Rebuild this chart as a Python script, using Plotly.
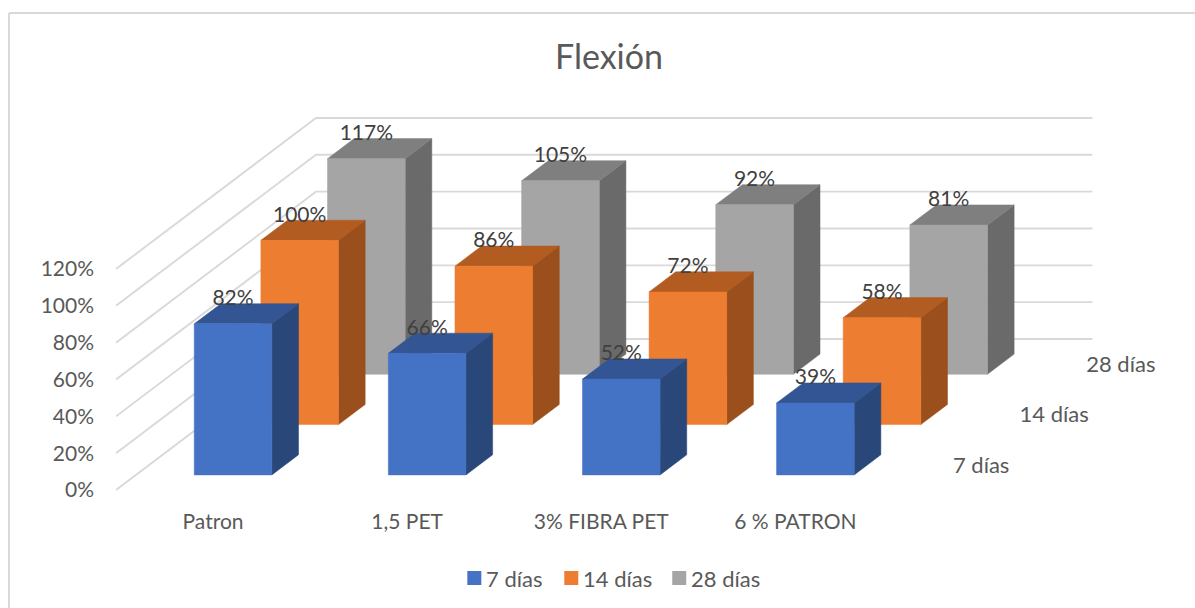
import plotly.graph_objects as go

# Chart data
categories = ["Patron", "1,5 PET", "3% FIBRA PET", "6 % PATRON"]
series_names = ["7 días", "14 días", "28 días"]
values_7 = [82, 66, 52, 39]
values_14 = [100, 86, 72, 58]
values_28 = [117, 105, 92, 81]
tick_values = [0, 20, 40, 60, 80, 100, 120]
tick_labels = ["0%", "20%", "40%", "60%", "80%", "100%", "120%"]

# Face colours per series: front, side, top
front_colors = ["#4472C4", "#ED7D31", "#A5A5A5"]
side_colors = ["#2A4779", "#9A4F1C", "#6A6A6A"]
top_colors = ["#335593", "#B25C22", "#7F7F7F"]

WIDTH, HEIGHT = 1195, 608
LEFT = 115.5          # pixel column of the value axis
FLOOR = 490.0         # pixel row of 0 % on the front edge
PX_PER_CAT = 194.2
PX_PER_PCT = 1.842
DEPTH_DX = 66.67 / PX_PER_CAT   # category units per depth slot
DEPTH_DY = 50.33 / PX_PER_PCT   # percent units per depth slot
BAR_INSET = 0.3
FONT = "Lato"


def project(cat, depth, value):
    """Oblique projection of (category, depth slot, value) onto the 2D axes."""
    return cat + depth * DEPTH_DX, value + depth * DEPTH_DY


def poly(points):
    xy = [project(*p) for p in points]
    xs = [q[0] for q in xy] + [xy[0][0]]
    ys = [q[1] for q in xy] + [xy[0][1]]
    return xs, ys


def paper_x(px):
    return (px - LEFT) / (WIDTH - LEFT)


def paper_y(py):
    return 1 - py / HEIGHT


fig = go.Figure()

# Wall gridlines run along the side wall and then across the back wall
n_cat = len(categories)
n_depth = len(series_names)
for v in tick_values:
    xs, ys = zip(*[project(0, 0, v), project(0, n_depth, v), project(n_cat, n_depth, v)])
    fig.add_trace(go.Scatter(x=xs, y=ys, mode="lines", showlegend=False, hoverinfo="skip",
                             line=dict(color="#D9D9D9", width=1.9)))


def face(points, color):
    xs, ys = poly(points)
    fig.add_trace(go.Scatter(x=xs, y=ys, mode="lines", fill="toself", fillcolor=color,
                             line=dict(color=color, width=0.5), showlegend=False,
                             hoverinfo="skip"))


# Back row first so nearer bars overlap it
all_values = [values_7, values_14, values_28]
for s in reversed(range(n_depth)):
    for i, v in enumerate(all_values[s]):
        x0, x1 = i + BAR_INSET, i + 1 - BAR_INSET
        z0, z1 = s + BAR_INSET, s + 1 - BAR_INSET
        face([(x1, z0, 0), (x1, z1, 0), (x1, z1, v), (x1, z0, v)], side_colors[s])
        face([(x0, z0, v), (x1, z0, v), (x1, z1, v), (x0, z1, v)], top_colors[s])
        face([(x0, z0, 0), (x1, z0, 0), (x1, z0, v), (x0, z0, v)], front_colors[s])

# Value labels sit just above each bar's front top edge
LABEL_RISE = 24 / PX_PER_PCT
lx, ly, lt = [], [], []
for s in range(n_depth):
    for i, v in enumerate(all_values[s]):
        px, py = project(i + 0.5, s + BAR_INSET, v + LABEL_RISE)
        lx.append(px)
        ly.append(py)
        lt.append(f"{v}%")
fig.add_trace(go.Scatter(x=lx, y=ly, text=lt, mode="text", textposition="middle center",
                         textfont=dict(family=FONT, size=21, color="#404040"),
                         showlegend=False, hoverinfo="skip"))

# Depth axis labels beside the floor
dx, dy = zip(*[project(n_cat + 0.14, s + 0.5, -1.2) for s in range(n_depth)])
fig.add_trace(go.Scatter(x=dx, y=dy, text=series_names, mode="text", textposition="middle right",
                         textfont=dict(family=FONT, size=22, color="#595959"),
                         showlegend=False, hoverinfo="skip"))

# Legend row: one swatch and caption per series
swatch_left = [467, 564, 672]
SWATCH = 14
LEGEND_Y = 578
shapes = []
annotations = []
for s, name in enumerate(series_names):
    shapes.append(dict(type="rect", xref="paper", yref="paper", line_width=0,
                       fillcolor=front_colors[s],
                       x0=paper_x(swatch_left[s]), x1=paper_x(swatch_left[s] + SWATCH),
                       y0=paper_y(LEGEND_Y + SWATCH / 2), y1=paper_y(LEGEND_Y - SWATCH / 2)))
    annotations.append(dict(text=name, xref="paper", yref="paper", showarrow=False,
                            x=paper_x(swatch_left[s] + 19), y=paper_y(LEGEND_Y),
                            xanchor="left", yanchor="middle", borderpad=0, borderwidth=0,
                            font=dict(family=FONT, size=22, color="#595959")))

# Chart frame: left and top edges
shapes.append(dict(type="line", xref="paper", yref="paper",
                   x0=paper_x(8.5), x1=paper_x(8.5), y0=0, y1=paper_y(13),
                   line=dict(color="#D9D9D9", width=2)))
shapes.append(dict(type="line", xref="paper", yref="paper",
                   x0=paper_x(8.5), x1=1, y0=paper_y(13), y1=paper_y(13),
                   line=dict(color="#D9D9D9", width=2)))

fig.update_layout(
    width=WIDTH, height=HEIGHT,
    margin=dict(l=LEFT, r=0, t=0, b=0, autoexpand=False),
    paper_bgcolor="white", plot_bgcolor="white",
    showlegend=False,
    title=dict(text="Flexión", x=609 / WIDTH, y=1 - 57 / HEIGHT, xanchor="center", yanchor="middle",
               font=dict(family=FONT, size=34, color="#595959")),
    xaxis=dict(range=[0, (WIDTH - LEFT) / PX_PER_CAT], tickmode="array",
               tickvals=[i + 0.5 for i in range(n_cat)], ticktext=categories,
               showgrid=False, zeroline=False, showline=False, ticks="",
               anchor="free", position=(HEIGHT - FLOOR) / HEIGHT, ticklabelstandoff=17,
               tickfont=dict(family=FONT, size=21, color="#595959")),
    yaxis=dict(range=[(FLOOR - HEIGHT) / PX_PER_PCT, FLOOR / PX_PER_PCT], tickmode="array",
               tickvals=tick_values, ticktext=tick_labels, showgrid=False, zeroline=False,
               showline=False, ticks="", ticklabelstandoff=21,
               tickfont=dict(family=FONT, size=21, color="#595959")),
    shapes=shapes,
    annotations=annotations,
)

fig.write_html("out.html")
